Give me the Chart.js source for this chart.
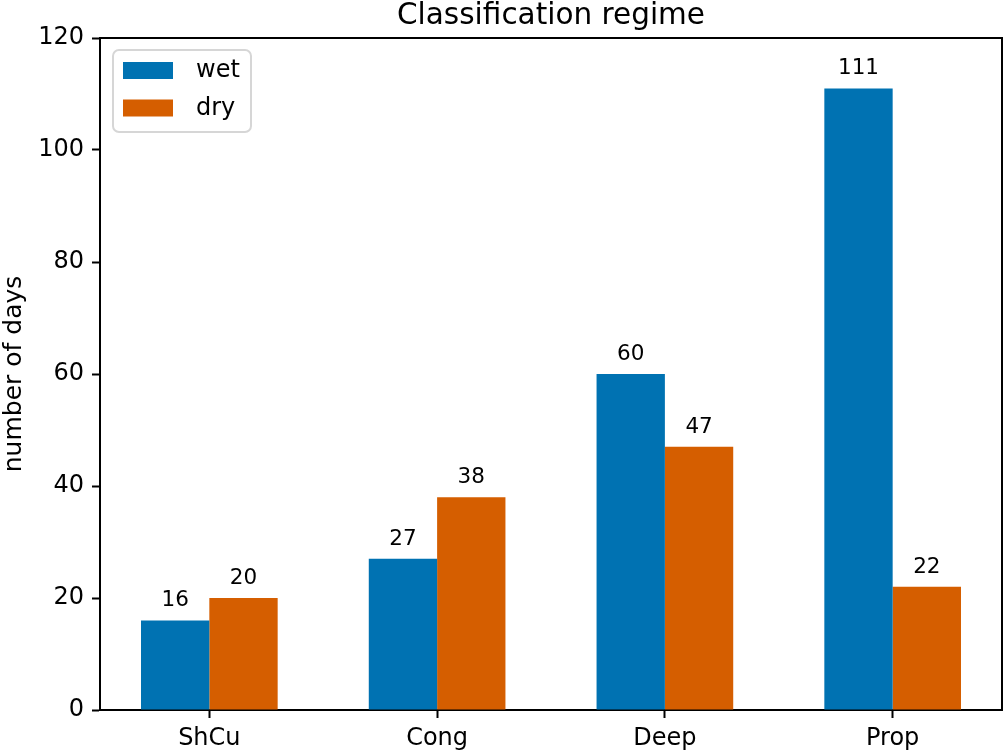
<!DOCTYPE html>
<html>
<head>
<meta charset="utf-8">
<script src="https://cdn.jsdelivr.net/npm/chart.js@4.4.1/dist/chart.umd.min.js"></script>
<style>
  html, body { margin:0; padding:0; background:#fff; }
  canvas { display:block; }
</style>
</head>
<body>
<canvas id="chart" width="1004" height="752"></canvas>
<script>
// chart data
const categories = ['ShCu', 'Cong', 'Deep', 'Prop'];
const wetDays = [16, 27, 60, 111];
const dryDays = [20, 38, 47, 22];
const yTicks = [0, 20, 40, 60, 80, 100, 120];

const FONT = "'DejaVu Sans', sans-serif";
const BLUE = '#0072B2';
const ORANGE = '#D55E00';

// --- extras drawn on top: spines, title, y label, bar labels, legend ---
const extras = {
  id: 'extras',
  afterDatasetsDraw(chart){
    const ctx = chart.ctx;
    ctx.save();
    ctx.fillStyle = '#000';
    ctx.font = '21.5px ' + FONT;
    ctx.textAlign = 'center';
    ctx.textBaseline = 'alphabetic';
    chart.data.datasets.forEach((ds, di) => {
      const meta = chart.getDatasetMeta(di);
      meta.data.forEach((bar, i) => {
        ctx.fillText(String(ds.data[i].y), bar.x, bar.y - 14);
      });
    });
    ctx.restore();
  },
  afterDraw(chart){
    const ctx = chart.ctx;
    const a = chart.chartArea;
    ctx.save();
    // top + right spines
    ctx.strokeStyle = '#000';
    ctx.lineWidth = 2;
    ctx.beginPath();
    ctx.moveTo(a.left - 1, a.top);
    ctx.lineTo(a.right, a.top);
    ctx.lineTo(a.right, a.bottom + 1);
    ctx.stroke();

    // title
    ctx.fillStyle = '#000';
    ctx.font = '29.5px ' + FONT;
    ctx.textAlign = 'center';
    ctx.textBaseline = 'alphabetic';
    ctx.fillText('Classification regime', (a.left + a.right) / 2, 24);

    // y label
    ctx.save();
    ctx.translate(14, (a.top + a.bottom) / 2);
    ctx.rotate(-Math.PI / 2);
    ctx.font = '25px ' + FONT;
    ctx.textBaseline = 'middle';
    ctx.fillText('number of days', 0, 0);
    ctx.restore();

    // legend
    const lx = 113, ly = 50, lw = 138, lh = 82, r = 6;
    ctx.beginPath();
    ctx.roundRect(lx, ly, lw, lh, r);
    ctx.fillStyle = 'rgba(255,255,255,0.8)';
    ctx.fill();
    ctx.strokeStyle = '#d6d6d6';
    ctx.lineWidth = 2;
    ctx.stroke();
    const items = [['wet', BLUE, 62], ['dry', ORANGE, 99.5]];
    ctx.font = '24px ' + FONT;
    ctx.textAlign = 'left';
    ctx.textBaseline = 'middle';
    items.forEach(([label, color, y]) => {
      ctx.fillStyle = color;
      ctx.fillRect(123, y, 50, 17);
      ctx.fillStyle = '#000';
      ctx.fillText(label, 196, y + 9);
    });
    ctx.restore();
  }
};

const ctx = document.getElementById('chart').getContext('2d');
new Chart(ctx, {
  type: 'bar',
  data: {
    datasets: [
      { label: 'wet', data: wetDays.map((v, i) => ({x: i, y: v})), backgroundColor: BLUE, borderWidth: 0 },
      { label: 'dry', data: dryDays.map((v, i) => ({x: i, y: v})), backgroundColor: ORANGE, borderWidth: 0 }
    ]
  },
  options: {
    responsive: false,
    animation: false,
    devicePixelRatio: 1,
    categoryPercentage: 0.6,
    barPercentage: 1.0,
    layout: { padding: { top: 38, right: 2, left: 0, bottom: 0 } },
    plugins: { legend: { display: false }, tooltip: { enabled: false } },
    scales: {
      x: {
        type: 'linear',
        min: -0.48,
        max: 3.48,
        offset: false,
        afterBuildTicks: s => { s.ticks = categories.map((c, i) => ({value: i})); },
        afterFit: s => { s.height = 42; },
        ticks: {
          autoSkip: false, maxRotation: 0, padding: 6, color: '#000',
          font: { family: FONT, size: 24 },
          callback: v => categories[v]
        },
        grid: { offset: false, drawOnChartArea: false, tickLength: 8, tickWidth: 2, tickColor: '#000' },
        border: { display: true, color: '#000', width: 2 }
      },
      y: {
        min: 0,
        max: 120,
        afterBuildTicks: s => { s.ticks = yTicks.map(v => ({value: v})); },
        afterFit: s => { s.width = 100; },
        ticks: { padding: 8, color: '#000', font: { family: FONT, size: 24 } },
        grid: { offset: false, drawOnChartArea: false, tickLength: 8, tickWidth: 2, tickColor: '#000' },
        border: { display: true, color: '#000', width: 2 }
      }
    }
  },
  plugins: [extras]
});
</script>
</body>
</html>
